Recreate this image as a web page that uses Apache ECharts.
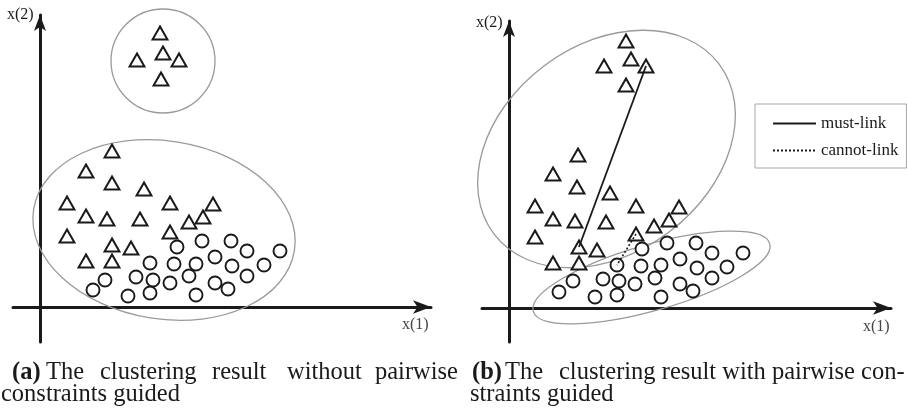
<!DOCTYPE html>
<html>
<head>
<meta charset="utf-8">
<script src="https://cdn.jsdelivr.net/npm/echarts@6/dist/echarts.min.js"></script>
<style>
html, body { margin: 0; padding: 0; background: #fff; }
#main { width: 908px; height: 417px; }
</style>
</head>
<body>
<div id="main"></div>
<script>
// panel (a), one unit = 10px measured from the axis origin
const triA = [
    [12.0, 27.4], [12.3, 25.4], [9.7, 24.7], [13.9, 24.7], [12.1, 22.8],
    [7.2, 15.6], [4.6, 13.6], [7.2, 12.4], [10.4, 11.8], [2.7, 10.4], [13.0, 10.4],
    [17.3, 10.3], [4.6, 9.1], [6.7, 8.8], [10.0, 8.8], [16.3, 9.0], [14.9, 8.5],
    [2.7, 7.1], [13.0, 7.5], [7.2, 6.2], [9.1, 5.9], [4.6, 4.6], [7.2, 4.6]
]
const cirA = [
    [13.7, 6.0], [16.2, 6.6], [19.1, 6.6], [20.7, 5.6], [24.0, 5.6], [17.5, 5.0],
    [11.0, 4.4], [13.4, 4.3], [15.6, 4.3], [19.2, 4.1], [22.4, 4.2], [6.5, 2.7],
    [9.6, 3.0], [11.3, 2.7], [13.0, 2.4], [14.9, 3.1], [17.5, 2.4], [20.7, 3.1],
    [5.3, 1.7], [8.8, 1.1], [11.0, 1.4], [15.6, 1.2], [18.8, 1.8]
]
// cluster outlines: [cx, cy, rx, ry, angle deg]
const ringsA = [[12.3, 24.6, 5.2, 5.2, 0], [12.4, 7.7, 13.2, 8.9, -9]]

// panel (b)
const triB = [
    [11.7, 26.7], [12.2, 24.9], [9.5, 24.2], [13.7, 24.2], [11.7, 22.3],
    [6.9, 15.3], [4.4, 13.4], [6.8, 12.1], [10.1, 11.5], [2.6, 10.2], [12.7, 10.2],
    [17.0, 10.1], [4.4, 8.9], [6.6, 8.7], [9.7, 8.6], [16.0, 8.8], [14.5, 8.2],
    [2.6, 7.1], [12.7, 7.4], [7.0, 6.1], [8.8, 5.8], [4.4, 4.5], [7.0, 4.5]
]
const cirB = [
    [13.3, 5.9], [15.8, 6.5], [18.7, 6.5], [20.3, 5.5], [23.4, 5.5], [17.1, 4.9],
    [10.8, 4.3], [13.2, 4.2], [15.2, 4.3], [18.8, 4.0], [21.8, 4.1], [6.4, 2.7],
    [9.4, 2.9], [11.0, 2.7], [12.6, 2.4], [14.6, 3.0], [17.1, 2.4], [20.3, 3.0],
    [5.0, 1.6], [8.6, 1.1], [10.8, 1.3], [15.2, 1.1], [18.4, 1.7]
]
const ringsB = [[9.75, 15.9, 14.1, 10.4, 37], [14.25, 3.05, 12.3, 3.3, 16]]
const mustLink = [[13.7, 24.2], [7.0, 6.1]]
const cannotLink = [[12.7, 7.4], [10.8, 4.3]]

const serif = 'Liberation Serif, Times New Roman, serif'
const ink = '#1a1a1a'

function axis(gridIndex, min, max, arrow) {
    return {
        type: 'value',
        gridIndex: gridIndex,
        min: min,
        max: max,
        axisLine: {
            show: true,
            onZero: true,
            symbol: ['none', 'arrow'],
            symbolSize: arrow,
            lineStyle: {color: ink, width: 3}
        },
        axisTick: {show: false},
        axisLabel: {show: false},
        splitLine: {show: false}
    }
}

function rings(idx, data) {
    return {
        type: 'custom',
        xAxisIndex: idx,
        yAxisIndex: idx,
        clip: false,
        silent: true,
        data: data,
        encode: {x: 0, y: 1},
        renderItem: function (params, api) {
            let c = api.coord([api.value(0), api.value(1)])
            let s = api.size([api.value(2), api.value(3)])
            return {
                type: 'ellipse',
                x: c[0],
                y: c[1],
                rotation: api.value(4) * Math.PI / 180,
                shape: {cx: 0, cy: 0, rx: s[0], ry: s[1]},
                style: {fill: 'none', stroke: '#9a9a9a', lineWidth: 1.3}
            }
        }
    }
}

function points(idx, data, symbol, size) {
    return {
        type: 'scatter',
        xAxisIndex: idx,
        yAxisIndex: idx,
        silent: true,
        symbol: symbol,
        symbolSize: size,
        data: data,
        itemStyle: {color: '#fff', borderColor: ink, borderWidth: 1.9, opacity: 1}
    }
}

function label(text, x, y, size, color, weight) {
    return {
        type: 'text',
        x: x,
        y: y,
        silent: true,
        style: {
            text: text,
            fill: color,
            font: (weight || 'normal') + ' ' + size + 'px ' + serif,
            align: 'left',
            verticalAlign: 'middle'
        }
    }
}

let chart = echarts.init(document.getElementById('main'))
let option = {
    backgroundColor: '#fff',
    animation: false,
    grid: [
        {left: 13, top: 15, width: 418, height: 327},
        {left: 482, top: 21, width: 409, height: 321}
    ],
    xAxis: [axis(0, -2.7, 39.1, [10, 18]), axis(1, -2.7, 38.2, [10, 18])],
    yAxis: [axis(0, -3.5, 29.2, [9, 16]), axis(1, -3.4, 28.7, [9, 16])],
    legend: {
        left: 755,
        top: 104,
        orient: 'vertical',
        padding: [11, 8, 9, 17],
        itemWidth: 43,
        itemHeight: 14,
        itemGap: 10,
        borderColor: '#a8a8a8',
        borderWidth: 1,
        selectedMode: false,
        itemStyle: {opacity: 0, borderWidth: 0},
        textStyle: {fontFamily: serif, fontSize: 17, color: ink},
        data: ['must-link', 'cannot-link']
    },
    series: [
        rings(0, ringsA),
        rings(1, ringsB),
        {
            name: 'must-link',
            type: 'line',
            xAxisIndex: 1,
            yAxisIndex: 1,
            symbol: 'none',
            silent: true,
            data: mustLink,
            itemStyle: {color: ink},
            lineStyle: {color: ink, width: 1.8, type: 'solid'}
        },
        {
            name: 'cannot-link',
            type: 'line',
            xAxisIndex: 1,
            yAxisIndex: 1,
            symbol: 'none',
            silent: true,
            data: cannotLink,
            itemStyle: {color: ink},
            lineStyle: {color: ink, width: 1.6, type: [2, 2]}
        },
        points(0, triA, 'triangle', [15, 13]),
        points(0, cirA, 'circle', 13),
        points(1, triB, 'triangle', [15, 13]),
        points(1, cirB, 'circle', 13)
    ],
    graphic: [
        label('x(2)', 7, 15, 16, ink),
        label('x(2)', 476, 23, 16, ink),
        label('x(1)', 402, 325, 16, '#444'),
        label('x(1)', 863, 327, 16, '#444'),
        label('(a)', 12, 373, 24.5, ink, 'bold'),
        label('The', 46, 373, 24.5, ink),
        label('clustering', 100, 373, 24.5, ink),
        label('result', 212, 373, 24.5, ink),
        label('without', 287, 373, 24.5, ink),
        label('pairwise', 375, 373, 24.5, ink),
        label('constraints guided', 1, 395, 24.5, ink),
        label('(b)', 472, 373, 24.5, ink, 'bold'),
        label('The', 505, 373, 24.5, ink),
        label('clustering result with pairwise con-', 559, 373, 24.5, ink),
        label('straints guided', 470, 395, 24.5, ink)
    ]
}
chart.setOption(option)
</script>
</body>
</html>
